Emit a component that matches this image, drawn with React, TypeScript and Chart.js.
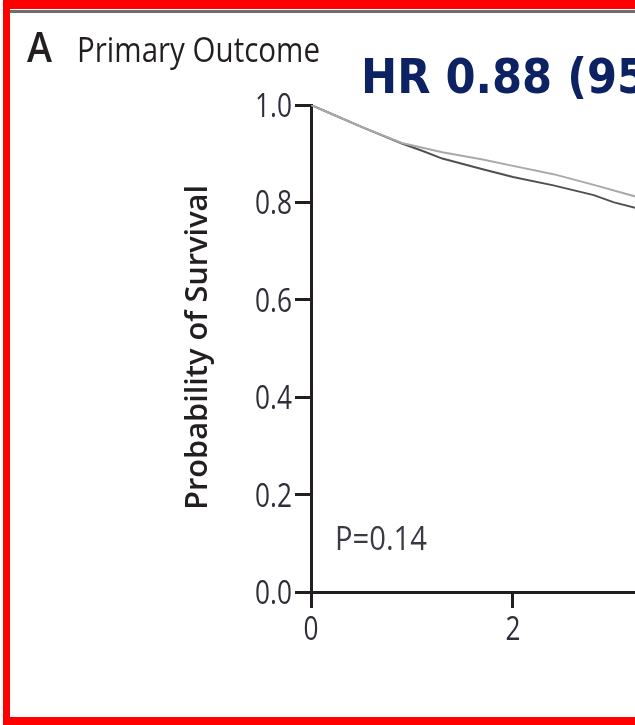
import React, { useEffect, useRef } from "react";
import { Chart, registerables } from "chart.js";

Chart.register(...registerables);

// Kaplan-Meier estimates read at selected follow-up times (years)
const timeGrey = [0, 0.2, 0.5, 0.9, 1.3, 1.7, 2.0, 2.4, 2.8, 3.25];
const survGrey = [1.0, 0.982, 0.955, 0.922, 0.903, 0.888, 0.875, 0.858, 0.836, 0.81];
const timeDark = [0, 0.2, 0.5, 0.9, 1.1, 1.3, 1.7, 2.0, 2.4, 2.8, 3.0, 3.25];
const survDark = [1.0, 0.982, 0.955, 0.921, 0.906, 0.89, 0.868, 0.852, 0.835, 0.815, 0.8, 0.787];

const xTicks = [0, 2];
const yTicks = [0, 0.2, 0.4, 0.6, 0.8, 1.0];
const xMax = 3.208;

const panelLetter = "A";
const panelTitle = "Primary Outcome";
const hazardText = "HR 0.88 (95% CI)";
const pText = "P=0.14";
const yTitle = "Probability of Survival";

const INK = "#231f20";
const LABEL = "#2e2e3a";
const SANS = '"Open Sans", "Noto Sans", sans-serif';

function fitText(
  ctx: CanvasRenderingContext2D,
  text: string,
  ref: string,
  font: string,
  color: string,
  x: number,
  baseline: number,
  width: number,
  align: "left" | "right" | "center" = "left"
) {
  ctx.save();
  ctx.font = font;
  ctx.fillStyle = color;
  ctx.textBaseline = "alphabetic";
  ctx.textAlign = align;
  const w = ctx.measureText(ref).width || 1;
  ctx.translate(x, baseline);
  ctx.scale(width / w, 1);
  ctx.fillText(text, 0, 0);
  ctx.restore();
}

// condensed numerals: each digit drawn about 15px wide
function digitScale(ctx: CanvasRenderingContext2D, font: string) {
  ctx.save();
  ctx.font = font;
  const w = ctx.measureText("0").width || 1;
  ctx.restore();
  return 15 / w;
}

const TICK_FONT = `400 33px ${SANS}`;

const tickLabels = {
  id: "tickLabels",
  afterDraw(chart: Chart) {
    const ctx = chart.ctx;
    const k = digitScale(ctx, TICK_FONT);
    const ys = chart.scales.y;
    const xs = chart.scales.x;
    ctx.save();
    ctx.font = TICK_FONT;
    ctx.fillStyle = LABEL;
    ctx.textBaseline = "alphabetic";
    ys.ticks.forEach((t: any) => {
      const py = ys.getPixelForValue(t.value);
      ctx.save();
      ctx.translate(292, py + 12);
      ctx.scale(k, 1);
      ctx.textAlign = "right";
      ctx.fillText(Number(t.value).toFixed(1), 0, 0);
      ctx.restore();
    });
    xs.ticks.forEach((t: any) => {
      const px = xs.getPixelForValue(t.value);
      ctx.save();
      ctx.translate(px, 640);
      ctx.scale(k, 1);
      ctx.textAlign = "center";
      ctx.fillText(String(t.value), 0, 0);
      ctx.restore();
    });
    ctx.restore();
  },
};

const annotations = {
  id: "annotations",
  afterDraw(chart: Chart) {
    const ctx = chart.ctx;
    fitText(ctx, panelLetter, panelLetter, `600 42px ${SANS}`, INK, 27, 62, 25);
    fitText(ctx, panelTitle, panelTitle, `500 34px ${SANS}`, INK, 77, 62, 243);
    fitText(ctx, hazardText, "HR 0.88 (9", `bold 48px "DejaVu Sans", sans-serif`, "#0d2262", 361, 93, 256);
    fitText(ctx, pText, pText, `400 33px ${SANS}`, "#3a3a44", 335, 550, 92);
    // rotated y-axis title
    ctx.save();
    ctx.translate(207, 510);
    ctx.rotate(-Math.PI / 2);
    fitText(ctx, yTitle, yTitle, `600 30px ${SANS}`, INK, 0, 0, 325);
    ctx.restore();
  },
};

export default function App() {
  const canvasRef = useRef<HTMLCanvasElement | null>(null);

  useEffect(() => {
    const canvas = canvasRef.current;
    if (!canvas) return;
    const chart = new Chart(canvas, {
      type: "line",
      data: {
        datasets: [
          {
            label: "Group 1",
            data: timeGrey.map((t, i) => ({ x: t, y: survGrey[i] })),
            borderColor: "#a9a9a9",
            borderWidth: 2,
            pointRadius: 0,
            tension: 0,
          },
          {
            label: "Group 2",
            data: timeDark.map((t, i) => ({ x: t, y: survDark[i] })),
            borderColor: "#505050",
            borderWidth: 2,
            pointRadius: 0,
            tension: 0,
          },
        ],
      },
      options: {
        responsive: false,
        animation: false,
        layout: { padding: { top: 105, right: 0, bottom: 0, left: 0 } },
        plugins: { legend: { display: false }, tooltip: { enabled: false } },
        scales: {
          x: {
            type: "linear",
            min: 0,
            max: xMax,
            afterBuildTicks: (s: any) => {
              s.ticks = xTicks.map((v) => ({ value: v }));
            },
            afterFit: (s: any) => {
              s.height = 133;
            },
            grid: { drawOnChartArea: false, drawTicks: true, tickLength: 16, tickWidth: 3, tickColor: INK },
            border: { display: true, width: 3, color: INK },
            ticks: { display: false },
          },
          y: {
            type: "linear",
            min: 0,
            max: 1,
            afterBuildTicks: (s: any) => {
              s.ticks = yTicks.map((v) => ({ value: v }));
            },
            afterFit: (s: any) => {
              s.width = 311;
            },
            grid: { drawOnChartArea: false, drawTicks: true, tickLength: 16, tickWidth: 3, tickColor: INK },
            border: { display: true, width: 3, color: INK },
            ticks: { display: false },
          },
        },
      },
      plugins: [tickLabels, annotations],
    });
    return () => chart.destroy();
  }, []);

  return (
    <div style={{ position: "absolute", left: 0, top: 0, width: 635, height: 725, background: "#ffffff", overflow: "hidden" }}>
      {/* red frame */}
      <div style={{ position: "absolute", left: 3, top: 0, width: 640, height: 725, background: "#ff0000" }} />
      <div style={{ position: "absolute", left: 10, top: 9, width: 640, height: 708, background: "#ffffff" }} />
      {/* grey rule */}
      <div style={{ position: "absolute", left: 10, top: 10, width: 640, height: 3, background: "#6e6e6e" }} />
      <canvas ref={canvasRef} width={635} height={725} style={{ position: "absolute", left: 0, top: 0 }} />
    </div>
  );
}
